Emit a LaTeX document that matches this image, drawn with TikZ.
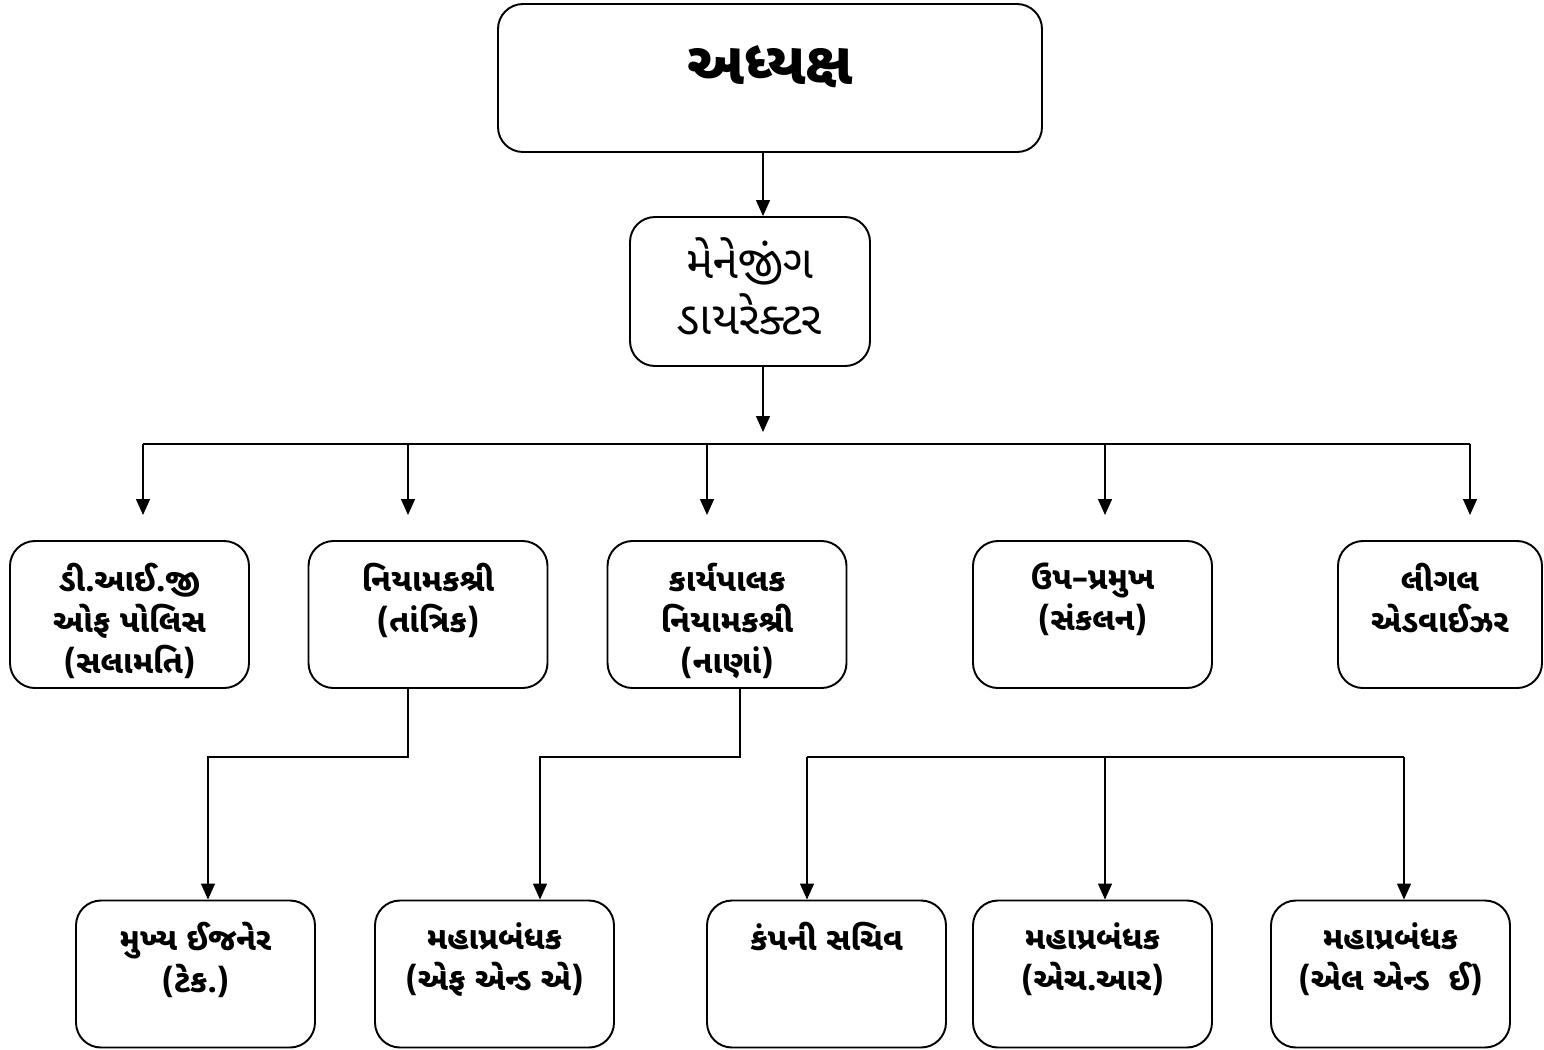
\documentclass[tikz,border=0pt]{standalone}
\usepackage{fontspec}
\newfontfamily\guj[Script=Gujarati]{Noto Sans Gujarati UI}
\usetikzlibrary{arrows.meta,positioning}

\begin{document}
\begin{tikzpicture}[every node/.style={align=center, inner sep=0pt},
    box/.style={draw, line width=1.1pt, rounded corners=0.5cm, minimum width=4.78cm, minimum height=2.94cm},
    txt/.style={font=\guj\bfseries\fontsize{18}{23.5}\selectfont},
    arr/.style={-{Triangle[length=0.32cm,width=0.28cm]}, line width=0.8pt}]
\useasboundingbox (0,0) rectangle (30.88,-20.98);
    \node[box, minimum width=10.88cm, minimum height=2.96cm] (v0) at (15.40,-1.56) {};
    \node[box, minimum width=4.80cm, minimum height=2.98cm] (v1) at (15.00,-5.83) {};
    \node[box] (v2) at (2.59,-12.29) {};
    \node[box] (v3) at (8.56,-12.29) {};
    \node[box] (v4) at (14.54,-12.29) {};
    \node[box] (v5) at (21.85,-12.29) {};
    \node[box, minimum width=4.08cm] (v6) at (28.80,-12.29) {};
    \node[box] (v7) at (3.91,-19.48) {};
    \node[box] (v8) at (9.89,-19.48) {};
    \node[box] (v9) at (16.53,-19.48) {};
    \node[box] (v10) at (21.85,-19.48) {};
    \node[box] (v11) at (27.81,-19.48) {};
\node[font=\guj\bfseries\fontsize{34}{40}\selectfont, below=0.85cm of v0.north] (t0) {અધ્યક્ષ};
\node[font=\guj\fontsize{26}{32}\selectfont, below=0.42cm of v1.north] (t1) {મેનેજીંગ\\ડાયરેક્ટર};
\node[txt, below=0.45cm of v2.north] (t2) {ડી.આઈ.જી\\ઓફ પોલિસ\\(સલામતિ)};
\node[txt, below=0.45cm of v3.north] (t3) {નિયામકશ્રી\\(તાંત્રિક)};
\node[txt, below=0.45cm of v4.north] (t4) {કાર્યપાલક\\નિયામકશ્રી\\(નાણાં)};
\node[txt, below=0.45cm of v5.north] (t5) {ઉપ–પ્રમુખ\\(સંકલન)};
\node[txt, below=0.45cm of v6.north] (t6) {લીગલ\\એડવાઈઝર};
\node[txt, below=0.45cm of v7.north] (t7) {મુખ્ય ઈજનેર\\(ટેક.)};
\node[txt, below=0.45cm of v8.north] (t8) {મહાપ્રબંધક\\(એફ એન્ડ એ)};
\node[txt, below=0.45cm of v9.north] (t9) {કંપની સચિવ};
\node[txt, below=0.45cm of v10.north] (t10) {મહાપ્રબંધક\\(એચ.આર)};
\node[txt, below=0.45cm of v11.north] (t11) {મહાપ્રબંધક\\(એલ એન્ડ \ ઈ)};
    \coordinate (c0) at (15.26,-8.64);
    \foreach \x [count=\i] in {2.86,8.16,14.14,22.10,29.40} {
        \coordinate (d\i) at (\x,-8.88);
        \coordinate (e\i) at (\x,-10.30);
    }
    \coordinate (f1) at (8.16,-15.14);
    \coordinate (f2) at (4.16,-15.14);
    \coordinate (f3) at (14.80,-15.14);
    \coordinate (f4) at (10.80,-15.14);
    \coordinate (g1) at (16.14,-15.14);
    \coordinate (g2) at (22.10,-15.14);
    \coordinate (g3) at (28.08,-15.14);
\draw[arr] (c0 |- v0.south) -- (c0 |- v1.north);
\draw[arr] (c0 |- v1.south) -- (c0);
\draw[line width=0.8pt] (d1) -- (d5);
    \foreach \i in {1,...,5}
        \draw[arr] (d\i) -- (e\i);
\draw[arr] (f1 |- v3.south) -- (f1) -- (f2) -- (f2 |- v7.north);
\draw[arr] (f3 |- v4.south) -- (f3) -- (f4) -- (f4 |- v8.north);
\draw[line width=0.8pt] (g1) -- (g3);
    \foreach \from/\to in {g1/v9, g2/v10, g3/v11}
        \draw[arr] (\from) -- (\from |- \to.north);
\end{tikzpicture}
\end{document}
